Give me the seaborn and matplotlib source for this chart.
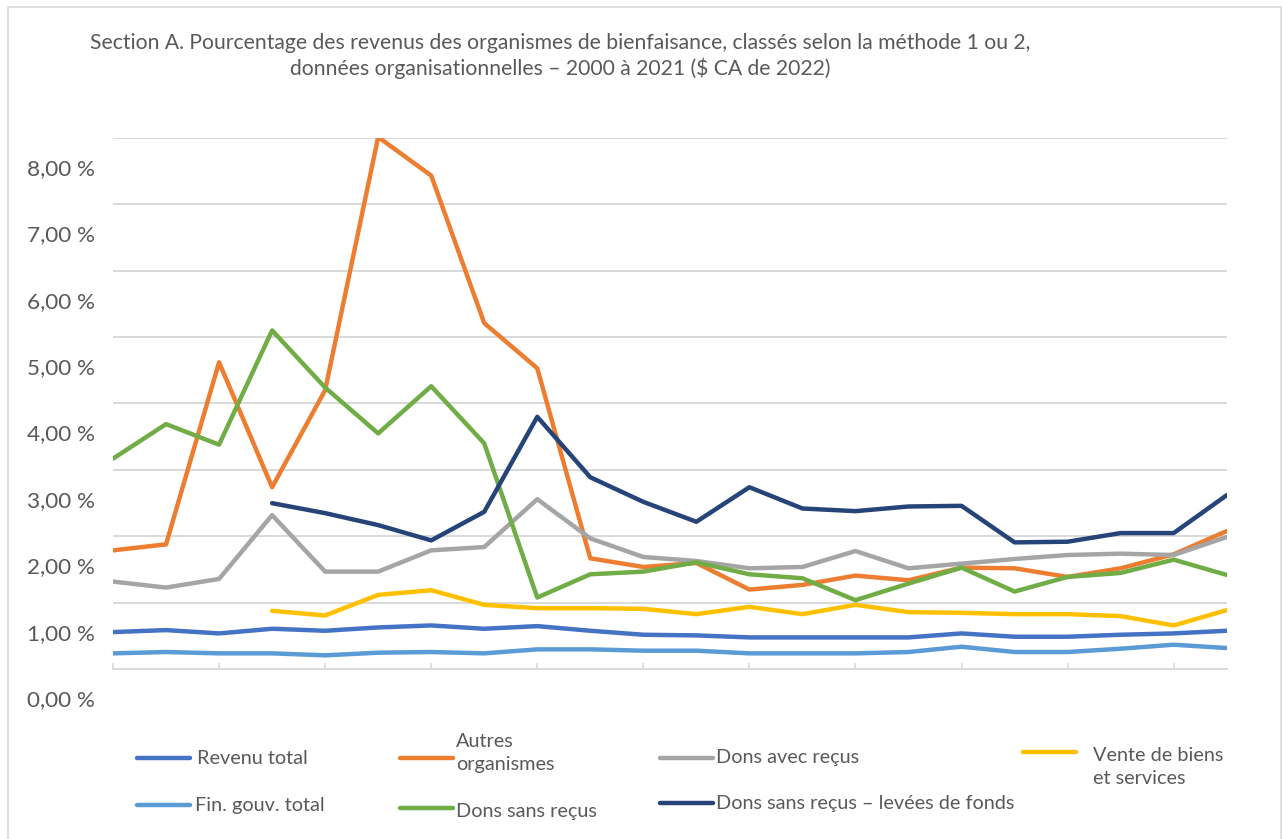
import matplotlib
matplotlib.use("Agg")
import matplotlib.pyplot as plt
import matplotlib.transforms as mtransforms
from matplotlib.lines import Line2D
from matplotlib.patches import Rectangle
import seaborn as sns
import numpy as np
import pandas as pd

# --- DATA (share of revenue, %) ---
years = list(range(2000, 2022))

revenu_total = [0.56, 0.59, 0.54, 0.61, 0.58, 0.63, 0.66, 0.61, 0.65, 0.58, 0.52,
                0.51, 0.48, 0.48, 0.48, 0.48, 0.54, 0.49, 0.49, 0.52, 0.54, 0.58]
autres_organismes = [1.79, 1.88, 4.62, 2.74, 4.20, 8.01, 7.43, 5.21, 4.53, 1.67, 1.54,
                     1.60, 1.20, 1.27, 1.41, 1.34, 1.53, 1.52, 1.39, 1.52, 1.73, 2.08]
dons_avec_recus = [1.32, 1.23, 1.36, 2.32, 1.47, 1.47, 1.79, 1.84, 2.56, 1.97, 1.69,
                   1.63, 1.52, 1.54, 1.78, 1.52, 1.59, 1.66, 1.72, 1.74, 1.72, 1.99]
vente_biens = [np.nan, np.nan, np.nan, 0.88, 0.81, 1.12, 1.19, 0.97, 0.92, 0.92, 0.91,
               0.83, 0.94, 0.83, 0.97, 0.86, 0.85, 0.83, 0.83, 0.80, 0.66, 0.89]
fin_gouv_total = [0.24, 0.26, 0.24, 0.24, 0.21, 0.25, 0.26, 0.24, 0.30, 0.30, 0.28,
                  0.28, 0.24, 0.24, 0.24, 0.26, 0.34, 0.26, 0.26, 0.31, 0.37, 0.32]
dons_sans_recus = [3.17, 3.69, 3.38, 5.10, 4.24, 3.55, 4.26, 3.40, 1.08, 1.43, 1.47,
                   1.61, 1.43, 1.37, 1.04, 1.29, 1.53, 1.17, 1.39, 1.45, 1.65, 1.42]
dons_sans_recus_levees = [np.nan, np.nan, np.nan, 2.50, 2.35, 2.17, 1.94, 2.37, 3.80, 2.89, 2.52,
                          2.22, 2.74, 2.42, 2.38, 2.45, 2.46, 1.91, 1.92, 2.05, 2.05, 2.62]

series_names = ["Revenu total", "Autres organismes", "Dons avec reçus",
                "Vente de biens et services", "Fin. gouv. total", "Dons sans reçus",
                "Dons sans reçus – levées de fonds"]
series_values = [revenu_total, autres_organismes, dons_avec_recus, vente_biens,
                 fin_gouv_total, dons_sans_recus, dons_sans_recus_levees]
colors = ["#4472C4", "#ED7D31", "#A5A5A5", "#FFC000", "#5B9BD5", "#70AD47", "#264478"]

ytick_values = [0, 1, 2, 3, 4, 5, 6, 7, 8]
ytick_labels = ["0,00 %", "1,00 %", "2,00 %", "3,00 %", "4,00 %", "5,00 %",
                "6,00 %", "7,00 %", "8,00 %"]

title = ("Section A. Pourcentage des revenus des organismes de bienfaisance, classés selon la méthode 1 ou 2,\n"
         "données organisationnelles – 2000 à 2021 ($ CA de 2022)")

# legend layout as in the original (labels wrapped the same way)
legend_labels = ["Revenu total", "Autres\norganismes", "Dons avec reçus",
                 "Vente de biens\net services", "Fin. gouv. total", "Dons sans reçus",
                 "Dons sans reçus – levées de fonds"]

# long format table for seaborn
df = pd.DataFrame({"Année": years * len(series_names),
                   "Série": [n for n in series_names for _ in years],
                   "Valeur": [v for vals in series_values for v in vals]})

sns.set_theme(style="white")
plt.rcParams["font.family"] = ["Lato", "DejaVu Sans"]

W, H = 1283, 839
fig = plt.figure(figsize=(W / 100, H / 100), dpi=100)
fx = lambda px: px / W
fy = lambda py: 1 - py / H

ax = fig.add_axes([fx(113), fy(669.3), fx(1226.7) - fx(113), fy(137.7) - fy(669.3)])

sns.lineplot(data=df, x="Année", y="Valeur", hue="Série", hue_order=series_names,
             palette=dict(zip(series_names, colors)), linewidth=3.2, ax=ax,
             legend=False, estimator=None)

ax.set_xlim(years[0], years[-1])
ax.set_ylim(0, 8)
ax.set_xlabel("")
ax.set_ylabel("")

# gridlines + axis
ax.yaxis.grid(True, color="#d9d9d9", linewidth=1.4)
ax.set_axisbelow(True)
for side in ["left", "right", "top"]:
    ax.spines[side].set_visible(False)
ax.spines["bottom"].set_color("#d9d9d9")
ax.spines["bottom"].set_linewidth(1.4)

ax.set_xticks(years[::2])
ax.set_xticklabels([])
ax.tick_params(axis="x", direction="in", length=4.5, width=1.2, color="#d9d9d9", bottom=True)

ax.set_yticks(ytick_values)
ax.set_yticklabels(ytick_labels)
ax.tick_params(axis="y", length=0, pad=13, labelsize=16.2, labelcolor="#595959")
# labels sit lower than their gridlines in the original
offset = mtransforms.ScaledTranslation(0, -29 / 100, fig.dpi_scale_trans)
for lab in ax.get_yticklabels():
    lab.set_transform(lab.get_transform() + offset)

# title
fig.text(fx(560), fy(56), title, ha="center", va="center", fontsize=15.2,
         color="#595959", linespacing=1.3)

# legend, drawn by hand to keep Excel's fixed columns
leg_pos = [(137, 758, 197, 758), (400, 758, 456, 753), (660, 758, 716, 758),
           (1023, 752, 1093, 767), (137, 805, 195, 805), (400, 808, 456, 811),
           (660, 803, 716, 803)]
for (hx, hy, tx, ty), lab, col in zip(leg_pos, legend_labels, colors):
    fig.add_artist(Line2D([fx(hx), fx(hx + 53)], [fy(hy), fy(hy)], color=col,
                          linewidth=3.2, transform=fig.transFigure))
    fig.text(fx(tx), fy(ty), lab, ha="left", va="center", fontsize=14.3,
             color="#595959", linespacing=1.45)

# chart border
fig.add_artist(Rectangle((fx(8), fy(900)), fx(1281) - fx(8), fy(7) - fy(900),
                         transform=fig.transFigure, fill=False, edgecolor="#d9d9d9",
                         linewidth=1.2))

fig.savefig("out.png", dpi=100, facecolor="white")
